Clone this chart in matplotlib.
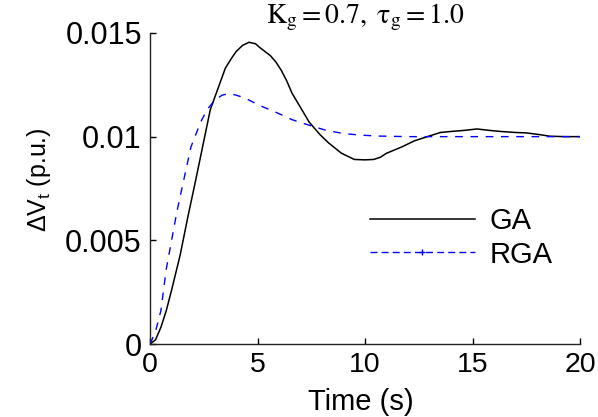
import matplotlib
matplotlib.use("Agg")
import matplotlib.pyplot as plt
from matplotlib.lines import Line2D
from matplotlib.ticker import FixedLocator, FuncFormatter

# values
ga_t = [0, 0.25, 0.5, 0.75, 1.0, 1.4, 1.75, 2.1, 2.4, 2.8, 3.15, 3.5, 3.8,
        4.0, 4.3, 4.6, 4.9, 5.1, 5.35, 5.6, 5.85, 6.1, 6.35, 6.6, 7.0, 7.4,
        7.9, 8.3, 8.9, 9.2, 9.5, 10.0, 10.4, 10.7, 11.0, 11.7, 12.3, 12.9,
        13.5, 14.0, 14.6, 15.2, 15.8, 16.3, 17.0, 17.5, 18.1, 18.6, 19.3, 20]
ga_v = [0, 0.0002, 0.0008, 0.0016, 0.0026, 0.0043, 0.0061, 0.0078, 0.0093,
        0.0113, 0.0123, 0.0133, 0.0138, 0.0141, 0.0144, 0.01455, 0.01448,
        0.0143, 0.0141, 0.0139, 0.0136, 0.0132, 0.0127, 0.0121, 0.0114,
        0.0107, 0.0101, 0.0097, 0.0092, 0.00905, 0.0089, 0.00888, 0.0089,
        0.0090, 0.0092, 0.0095, 0.0098, 0.0100, 0.0102, 0.01025, 0.0103,
        0.01037, 0.0103, 0.01025, 0.0102, 0.01018, 0.0101, 0.01002, 0.0100,
        0.0100]

rga_t = [0, 0.25, 0.5, 0.75, 1.0, 1.25, 1.5, 1.9, 2.35, 2.65, 3.0, 3.35,
         3.7, 4.0, 4.4, 5.1, 5.8, 6.6, 7.4, 8.2, 9.0, 9.6, 10.5, 12, 14, 16,
         18, 20]
rga_v = [0, 0.0006, 0.0016, 0.0036, 0.0050, 0.0064, 0.0076, 0.0095, 0.0107,
         0.0113, 0.01175, 0.0120, 0.01208, 0.0120, 0.01187, 0.0115, 0.0112,
         0.01082, 0.01055, 0.0103, 0.01015, 0.01009, 0.01003, 0.0100, 0.0100,
         0.0100, 0.0100, 0.0100]

x_ticks = [0, 5, 10, 15, 20]
y_ticks = [0, 0.005, 0.01, 0.015]
y_tick_labels = ["0", "0.005", "0.01", "0.015"]

plt.rcParams["font.family"] = ["Liberation Sans", "DejaVu Sans"]
plt.rcParams["mathtext.fontset"] = "custom"
plt.rcParams["mathtext.rm"] = "Liberation Sans"
plt.rcParams["mathtext.it"] = "Liberation Sans"

fig = plt.figure(figsize=(5.98, 4.17), dpi=100)
ax = fig.add_axes([0.251, 0.175, 0.719, 0.746])

ax.plot(ga_t, ga_v, color="black", lw=1.1, label="GA")
ax.plot(rga_t, rga_v, color="blue", lw=1.0, dashes=(5.5, 5.5), label="RGA")

ax.set_xlim(0, 20)
ax.set_ylim(0, 0.015)
ax.xaxis.set_major_locator(FixedLocator(x_ticks))
ax.yaxis.set_major_locator(FixedLocator(y_ticks))
ax.yaxis.set_major_formatter(FuncFormatter(lambda v, p: y_tick_labels[p] if p is not None and p < len(y_tick_labels) else ""))
ax.tick_params(direction="in", length=4, width=1, pad=6)
ax.tick_params(axis="y", labelsize=22)
ax.tick_params(axis="x", labelsize=20.5)

for s in ["top", "right"]:
    ax.spines[s].set_visible(False)
for s in ["left", "bottom"]:
    ax.spines[s].set_linewidth(1.0)
    ax.spines[s].set_color("#222222")

ax.set_xlabel("Time (s)", fontsize=21)
ax.xaxis.set_label_coords(0.49, -0.141)
ax.xaxis.label.set_va("top")
ax.set_ylabel(r"$\Delta V_t$ (p.u.)", fontsize=18)
ax.yaxis.set_label_coords(-0.226, 0.53)

ax.text(0.50, 1.0, r"$\mathrm{K_g{=}0.7,\ \tau_g{=}1.0}$", transform=ax.transAxes,
        ha="center", va="bottom", fontsize=20, math_fontfamily="stix")

# legend proxy handles so the small marker only shows in the legend
ga_handle = Line2D([], [], color="black", lw=1.1)
rga_handle = Line2D([], [], color="blue", lw=1.0, dashes=(5, 3), marker="+",
                    markersize=4, markevery=[1])
leg = ax.legend([ga_handle, rga_handle], ["GA", "RGA"], loc="upper left",
                bbox_to_anchor=(0.511, 0.441), frameon=False, fontsize=21,
                handlelength=3.6, handletextpad=0.5, labelspacing=0.2,
                borderpad=0, borderaxespad=0, numpoints=1)

fig.savefig("out.png", dpi=100)
